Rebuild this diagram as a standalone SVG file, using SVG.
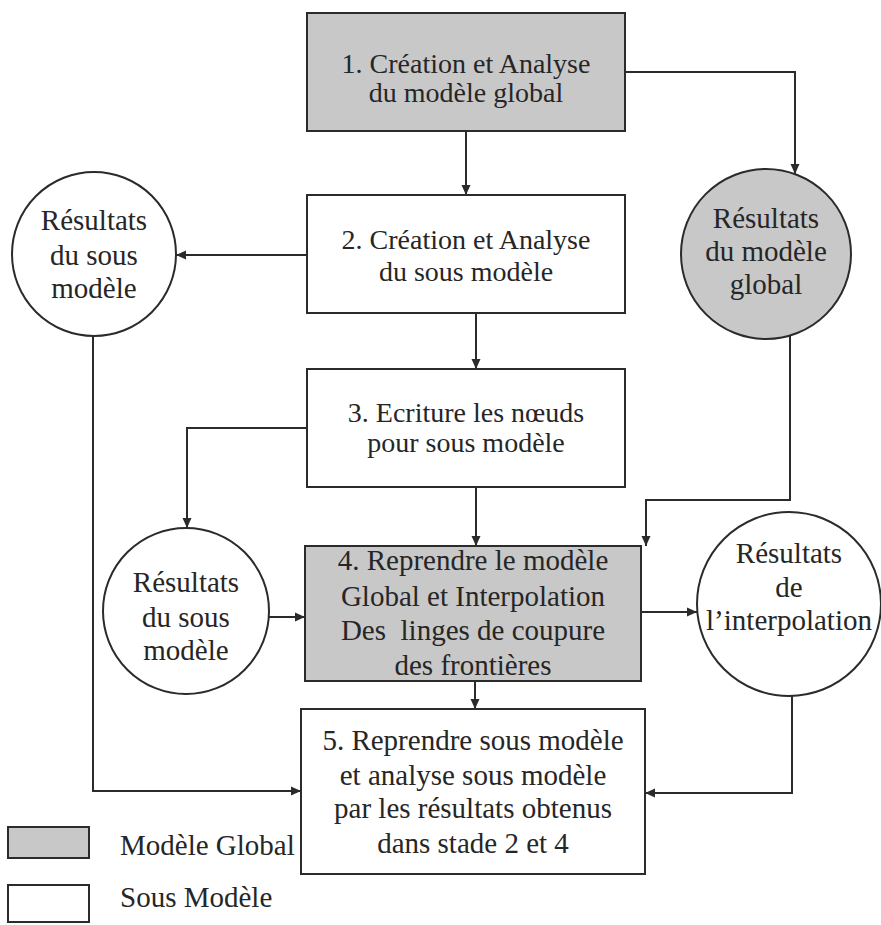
<svg xmlns="http://www.w3.org/2000/svg" width="881" height="925" viewBox="0 0 881 925">
<style>
.box{fill:#ffffff;stroke:#2b2b2b;stroke-width:2}
.gray{fill:#c8c8c8}
text{font-family:'Liberation Serif','Times New Roman',serif;font-size:29px;fill:#262626}
.s28{font-size:28px}
.t{text-anchor:middle}
.c{fill:none;stroke:#2b2b2b;stroke-width:2}
</style>
<defs>
<marker id="ah" viewBox="0 0 10 10" refX="10" refY="5" markerWidth="10" markerHeight="10" markerUnits="userSpaceOnUse" orient="auto">
<path d="M0,0.5 L10,5 L0,9.5 Z" fill="#2b2b2b"/>
</marker>
</defs>
<rect width="881" height="925" fill="#ffffff"/>
<g id="connectors">
<path class="c" d="M466,131 V195" marker-end="url(#ah)"/>
<path class="c" d="M625,72 H795 V174" marker-end="url(#ah)"/>
<path class="c" d="M307,255 H176" marker-end="url(#ah)"/>
<path class="c" d="M476,313 V369" marker-end="url(#ah)"/>
<path class="c" d="M307,428 H187 V528" marker-end="url(#ah)"/>
<path class="c" d="M476,487 V546" marker-end="url(#ah)"/>
<path class="c" d="M790,335 V500 H646 V546" marker-end="url(#ah)"/>
<path class="c" d="M269,617 H305" marker-end="url(#ah)"/>
<path class="c" d="M641,612 H697" marker-end="url(#ah)"/>
<path class="c" d="M475,681 V709" marker-end="url(#ah)"/>
<path class="c" d="M93,336 V791 H301" marker-end="url(#ah)"/>
<path class="c" d="M792,696 V793 H645" marker-end="url(#ah)"/>
</g>
<g id="n1">
<rect class="box gray" x="307" y="13" width="318" height="118"/>
<text class="t s28" x="466" y="73">1. Création et Analyse</text>
<text class="t s28" x="466" y="102">du modèle global</text>
</g>
<g id="n2">
<rect class="box" x="307" y="195" width="318" height="118"/>
<text class="t s28" x="466" y="249">2. Création et Analyse</text>
<text class="t s28" x="466" y="281">du sous modèle</text>
</g>
<g id="n3">
<rect class="box" x="307" y="369" width="318" height="118"/>
<text class="t s28" x="466" y="422">3. Ecriture les nœuds</text>
<text class="t s28" x="466" y="452">pour sous modèle</text>
</g>
<g id="n4">
<rect class="box gray" x="305" y="546" width="336" height="135"/>
<text class="t" x="473" y="570">4. Reprendre le modèle</text>
<text class="t" x="473" y="606">Global et Interpolation</text>
<text class="t" x="473" y="640" xml:space="preserve">Des  linges de coupure</text>
<text class="t" x="473" y="675">des frontières</text>
</g>
<g id="n5">
<rect class="box" x="301" y="709" width="344" height="165"/>
<text class="t" x="473" y="750">5. Reprendre sous modèle</text>
<text class="t" x="473" y="785">et analyse sous modèle</text>
<text class="t" x="473" y="818">par les résultats obtenus</text>
<text class="t" x="473" y="853">dans stade 2 et 4</text>
</g>
<g id="rA">
<circle class="box" cx="94" cy="254" r="82"/>
<text class="t" x="94" y="230">Résultats</text>
<text class="t" x="94" y="265">du sous</text>
<text class="t" x="94" y="298">modèle</text>
</g>
<g id="rB">
<circle class="box gray" cx="766" cy="254" r="85"/>
<text class="t" x="766" y="228">Résultats</text>
<text class="t" x="766" y="261">du modèle</text>
<text class="t" x="766" y="294">global</text>
</g>
<g id="rC">
<circle class="box" cx="186" cy="611" r="83"/>
<text class="t" x="186" y="592">Résultats</text>
<text class="t" x="186" y="627">du sous</text>
<text class="t" x="186" y="660">modèle</text>
</g>
<g id="rD">
<circle class="box" cx="789" cy="604" r="92"/>
<text class="t" x="789" y="563">Résultats</text>
<text class="t" x="789" y="597">de</text>
<text class="t" x="789" y="630">l’interpolation</text>
</g>
<g id="legend">
<rect class="box gray" x="8" y="827" width="81" height="31"/>
<text x="120" y="855">Modèle Global</text>
<rect class="box" x="8" y="885" width="81" height="37"/>
<text x="120" y="907">Sous Modèle</text>
</g>
</svg>
